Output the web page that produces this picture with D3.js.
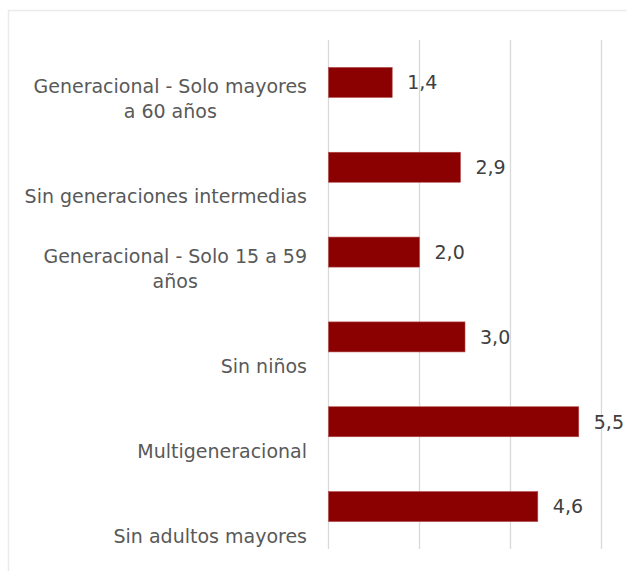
<!DOCTYPE html>
<html>
<head>
<meta charset="utf-8">
<script src="https://cdn.jsdelivr.net/npm/d3@7"></script>
<style>
  html, body { margin: 0; padding: 0; background: #ffffff; }
  svg { display: block; }
</style>
</head>
<body>
<svg id="chart" width="627" height="571"></svg>
<script>
// Household types (top to bottom) and their values
const categories = [
  "Generacional - Solo mayores a 60 años",
  "Sin generaciones intermedias",
  "Generacional - Solo 15 a 59 años",
  "Sin niños",
  "Multigeneracional",
  "Sin adultos mayores"
];
// Wrapped lines for each category label
const categoryLines = [
  ["Generacional - Solo mayores", "a 60 años"],
  ["Sin generaciones intermedias"],
  ["Generacional - Solo 15 a 59", "años"],
  ["Sin niños"],
  ["Multigeneracional"],
  ["Sin adultos mayores"]
];
const values = [1.4, 2.9, 2.0, 3.0, 5.5, 4.6];
const valueLabels = ["1,4", "2,9", "2,0", "3,0", "5,5", "4,6"];
const gridTicks = [0, 2, 4, 6];

const FONT = "'DejaVu Sans', sans-serif";
const svg = d3.select("#chart");

// Chart frame
svg.append("rect")
  .attr("x", 8.5).attr("y", 10.5)
  .attr("width", 640).attr("height", 600)
  .attr("fill", "#ffffff")
  .attr("stroke", "#ebebeb")
  .attr("stroke-width", 1.5);

const plot = { left: 328.5, right: 601.5, top: 40, bottom: 549 };

const x = d3.scaleLinear().domain([0, 6]).range([plot.left, plot.right]);
const step = (plot.bottom - plot.top) / categories.length;
const pInner = 1 - 30 / step;
const y = d3.scaleBand()
  .domain(categories)
  .range([plot.top, plot.bottom])
  .paddingInner(pInner)
  .paddingOuter(pInner / 2);

// Vertical gridlines
svg.append("g")
  .selectAll("line")
  .data(gridTicks)
  .join("line")
  .attr("x1", d => x(d)).attr("x2", d => x(d))
  .attr("y1", plot.top).attr("y2", plot.bottom)
  .attr("stroke", "#d9d9d9")
  .attr("stroke-width", 1.3);

// Bars
svg.append("g")
  .selectAll("rect")
  .data(values)
  .join("rect")
  .attr("x", x(0))
  .attr("y", (d, i) => y(categories[i]))
  .attr("width", d => x(d) - x(0))
  .attr("height", y.bandwidth())
  .attr("fill", "#8b0000")
  .attr("stroke", "#b24a4a")
  .attr("stroke-width", 0.6);

// Value labels
svg.append("g")
  .selectAll("text")
  .data(values)
  .join("text")
  .attr("x", d => x(d) + 15)
  .attr("y", (d, i) => y(categories[i]) + y.bandwidth() / 2)
  .attr("dy", "0.36em")
  .attr("font-family", FONT)
  .attr("font-size", 19)
  .attr("fill", "#404040")
  .text((d, i) => valueLabels[i]);

// Category labels: block right-aligned, lines centred within the block,
// last line sitting near the bottom of each category cell
const labelRight = 307;
const lineGap = 25;
const labels = svg.append("g");
categoryLines.forEach((lines, i) => {
  const cellBottom = plot.top + step * (i + 1);
  const g = labels.append("g");
  const texts = lines.map((ln, j) => g.append("text")
    .attr("font-family", FONT)
    .attr("font-size", 19)
    .attr("fill", "#595959")
    .attr("text-anchor", "middle")
    .attr("y", cellBottom - 6.5 - (lines.length - 1 - j) * lineGap)
    .text(ln));
  const w = d3.max(texts, t => t.node().getComputedTextLength());
  texts.forEach(t => t.attr("x", labelRight - w / 2));
});
</script>
</body>
</html>
